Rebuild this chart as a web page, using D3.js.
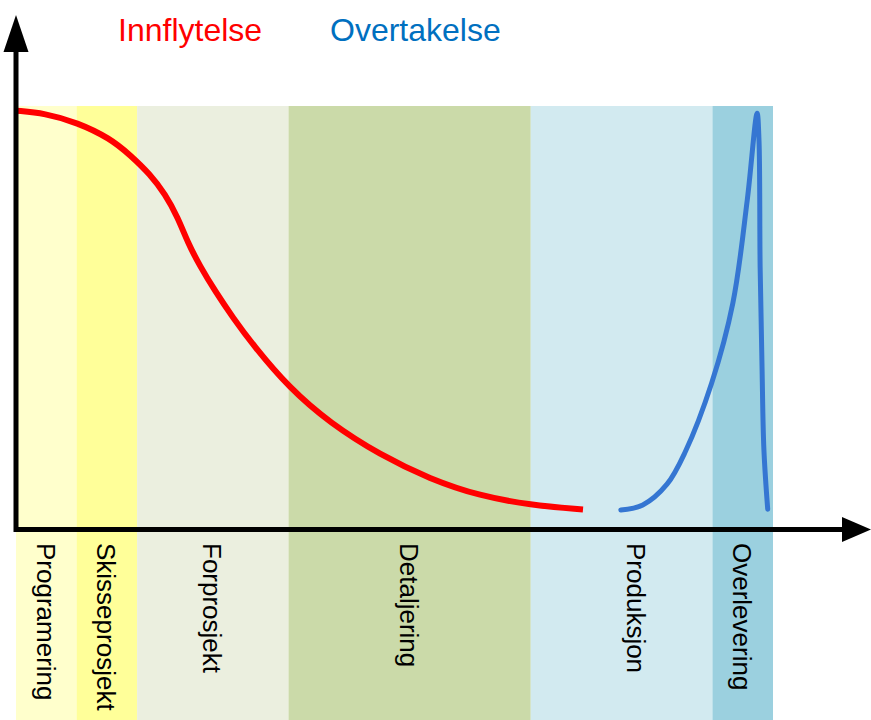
<!DOCTYPE html>
<html>
<head>
<meta charset="utf-8">
<script src="https://cdn.jsdelivr.net/npm/d3@7"></script>
<style>
  body { margin: 0; background: #fff; }
  svg { display: block; font-family: "Liberation Sans", Arial, sans-serif; }
</style>
</head>
<body>
<script>
// phases along the project timeline (x in % of project)
var phases = ["Programering", "Skisseprosjekt", "Forprosjekt", "Detaljering", "Produksjon", "Overlevering"];
var phaseStart = [0, 8, 16, 36, 68, 92];
var phaseEnd = [8, 16, 36, 68, 92, 100];
var phaseLabelAt = [4, 12, 26, 52, 82, 96];
var phaseColors = ["#ffffcc", "#ffff99", "#ebefdf", "#cbdaa9", "#d2eaf0", "#9bd0df"];

// Innflytelse (influence) curve
var influenceX = [0, 3.8, 8.1, 12.4, 15.1, 17.7, 19.7, 21.4, 22.7, 24.3, 26.3, 28.7, 31.3, 36.1, 41.5, 48.1, 54.7, 61.3, 67.9, 74.9];
var influenceY = [98.9, 98.3, 96.1, 92.4, 88.4, 83.9, 79.2, 73.6, 67.7, 62.2, 56.3, 49.9, 43.6, 33.4, 25.1, 17.6, 11.9, 7.9, 5.8, 4.7];

// Overtakelse (takeover) curve
var takeoverX = [79.9, 82.8, 86.0, 88.4, 91.9, 94.7, 96.6, 97.9, 98.15, 98.3, 98.55, 98.8, 99.3];
var takeoverY = [4.6, 5.8, 10.7, 18.3, 34.6, 53.5, 77.8, 98.3, 91.9, 62.0, 38.4, 18.8, 4.8];

var width = 871, height = 720;

var svg = d3.select("body").append("svg")
    .attr("width", width)
    .attr("height", height);

var x = d3.scaleLinear().domain([0, 100]).range([16, 773]);
var y = d3.scaleLinear().domain([0, 100]).range([529.5, 106]);

// phase bands
svg.selectAll("rect.phase")
    .data(phases)
    .enter()
    .append("rect")
    .attr("class", "phase")
    .attr("x", function(d, i) { return x(phaseStart[i]); })
    .attr("y", y(100))
    .attr("width", function(d, i) { return x(phaseEnd[i]) - x(phaseStart[i]); })
    .attr("height", height - y(100))
    .style("fill", function(d, i) { return phaseColors[i]; });

// phase labels, rotated
svg.selectAll("text.phase")
    .data(phases)
    .enter()
    .append("text")
    .attr("class", "phase")
    .attr("transform", function(d, i) {
        return "translate(" + (x(phaseLabelAt[i]) - 9.5) + ",543) rotate(90)";
    })
    .style("font-size", "26px")
    .style("fill", "#000")
    .text(function(d) { return d; });

var line = d3.line()
    .x(function(d) { return x(d[0]); })
    .y(function(d) { return y(d[1]); });

// smoothed, the readings are a bit noisy
svg.append("path")
    .datum(d3.zip(influenceX, influenceY))
    .attr("d", line.curve(d3.curveBasis))
    .style("fill", "none")
    .style("stroke", "#ff0000")
    .style("stroke-width", 6);

svg.append("path")
    .datum(d3.zip(takeoverX, takeoverY))
    .attr("d", line.curve(d3.curveCatmullRom.alpha(0.5)))
    .style("fill", "none")
    .style("stroke", "#3576d2")
    .style("stroke-width", 5)
    .style("stroke-linecap", "round")
    .style("stroke-linejoin", "round");

// axes (no ticks), with arrow heads
var ox = x(0), oy = y(0);
svg.append("path")
    .attr("d", "M" + ox + ",50 L" + ox + "," + oy + " L845," + oy)
    .style("fill", "none")
    .style("stroke", "#000")
    .style("stroke-width", 5)
    .style("stroke-linejoin", "miter");

svg.append("path")
    .attr("d", "M" + ox + ",15 L" + (ox - 12.5) + ",52 L" + (ox + 12.5) + ",52 Z")
    .style("fill", "#000");

svg.append("path")
    .attr("d", "M871," + oy + " L842," + (oy - 12.5) + " L842," + (oy + 12.5) + " Z")
    .style("fill", "#000");

// series titles
svg.append("text")
    .attr("x", 118)
    .attr("y", 41)
    .style("font-size", "32px")
    .style("fill", "#ff0000")
    .text("Innflytelse");

svg.append("text")
    .attr("x", 330)
    .attr("y", 41)
    .style("font-size", "32px")
    .style("fill", "#0070c0")
    .text("Overtakelse");
</script>
</body>
</html>
